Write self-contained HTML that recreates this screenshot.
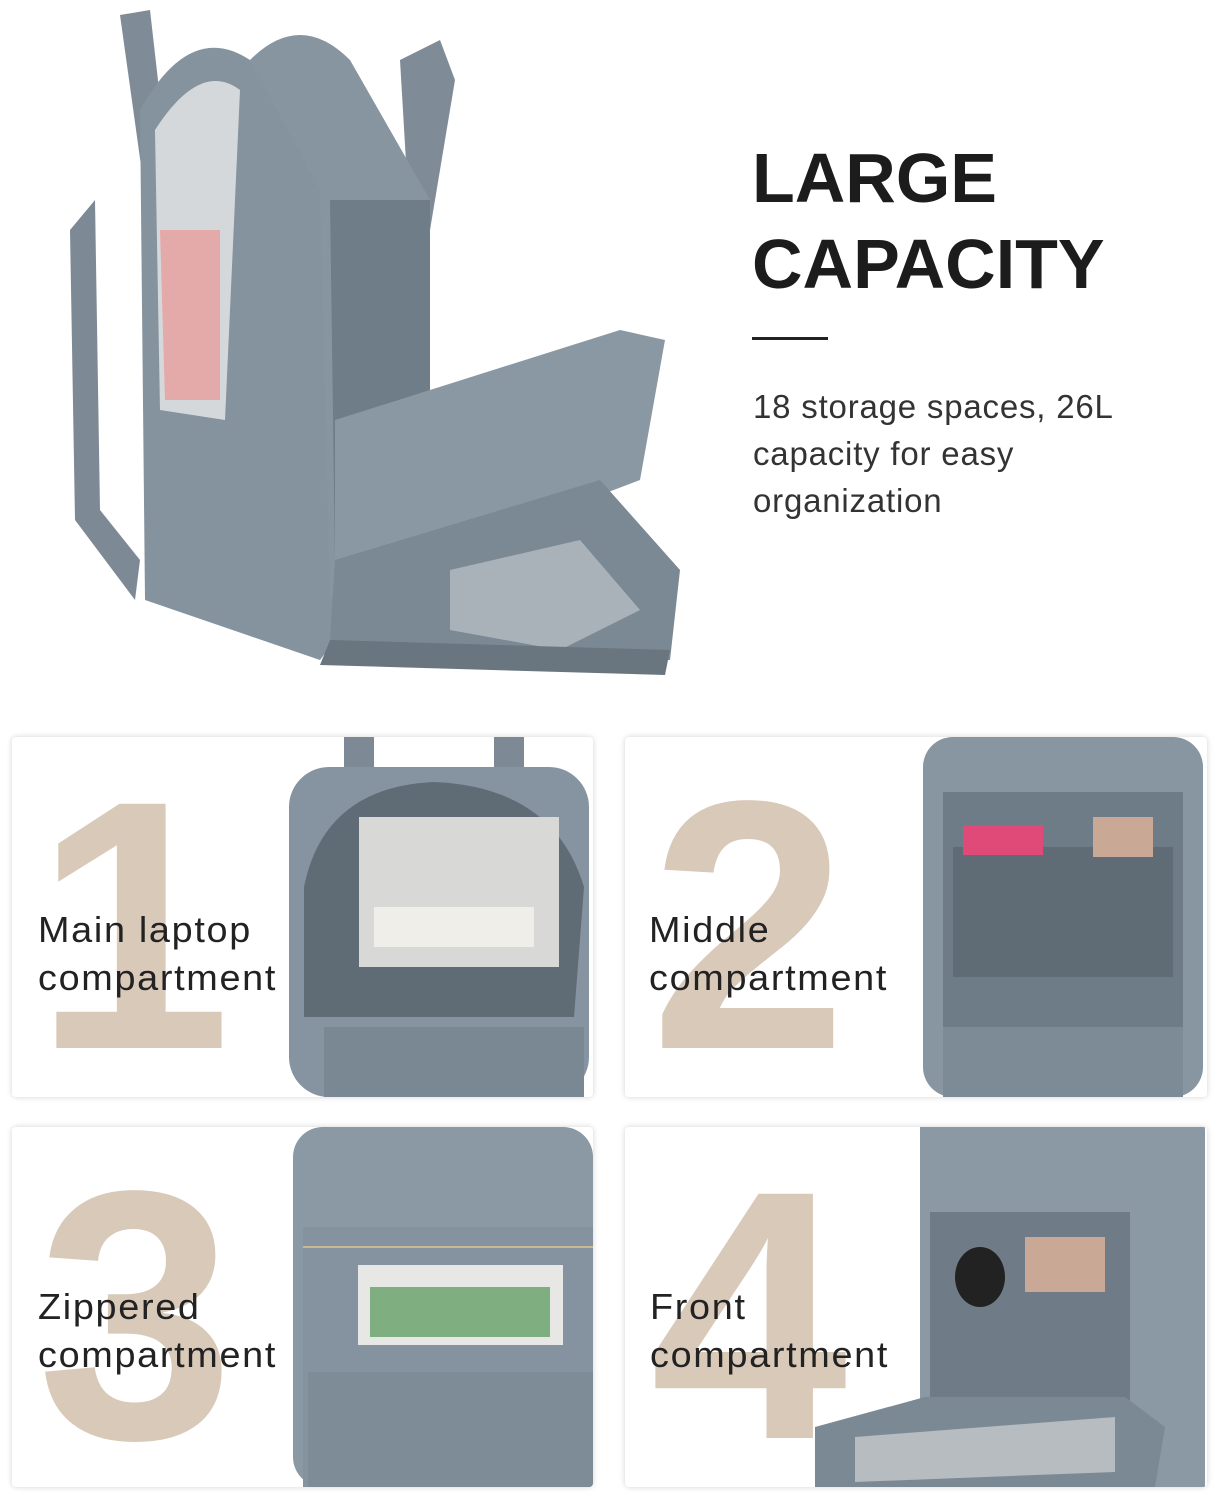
<!DOCTYPE html>
<html><head><meta charset="utf-8"><style>
body{margin:0;background:#fff;width:1219px;height:1500px;position:relative;overflow:hidden;font-family:"Liberation Sans",sans-serif}
.abs{position:absolute}
.card{position:absolute;background:#fff;border-radius:4px;box-shadow:0 0 6px rgba(0,0,0,.18);overflow:hidden}
.num{position:absolute;color:#d9c9b9;font-size:355px;line-height:1;font-weight:700}
.lbl{position:absolute;font-size:36px;line-height:48px;color:#222;letter-spacing:1.6px;transform:scaleX(1.05);transform-origin:left}
</style></head><body>
<svg class="abs" style="left:0;top:0" width="700" height="690">
 <path d="M95 200 L70 230 L75 520 L135 600 L140 560 L100 510 Z" fill="#7d8a95"/>
 <path d="M120 15 L150 10 L175 230 L150 230 Z" fill="#7f8c97"/>
 <path d="M400 60 L440 40 L455 80 L430 230 L410 230 Z" fill="#7f8c97"/>
 <path d="M140 110 Q190 20 250 60 L330 190 L335 640 L320 660 L145 600 Z" fill="#85939e"/>
 <path d="M155 130 Q200 60 240 90 L225 420 L160 410 Z" fill="#d5d8da"/>
 <path d="M160 230 L220 230 L220 400 L165 400 Z" fill="#e4a9a9"/>
 <path d="M250 60 Q300 10 350 60 L430 200 L430 480 L330 600 L320 190 Z" fill="#8795a0"/>
 <path d="M330 200 L430 200 L430 460 L335 560 Z" fill="#6f7d88"/>
 <path d="M335 420 L620 330 L665 340 L640 480 L430 560 L335 620 Z" fill="#8a98a3"/>
 <path d="M335 560 L600 480 L680 570 L670 660 L440 660 L330 640 Z" fill="#7b8994"/>
 <path d="M450 570 L580 540 L640 610 L560 650 L450 630 Z" fill="#a9b2b8"/>
 <path d="M330 640 L670 650 L665 675 L320 665 Z" fill="#697680"/>
</svg>
<div class="abs" style="left:752px;top:135px;font-size:70px;font-weight:700;line-height:86px;color:#1c1c1c">LARGE<br>CAPACITY</div>
<div class="abs" style="left:752px;top:337px;width:76px;height:3px;background:#222"></div>
<div class="abs" style="left:753px;top:383px;font-size:33px;line-height:47px;color:#333;letter-spacing:0.8px">18 storage spaces, 26L<br>capacity for easy<br>organization</div>

<div class="card" style="left:12px;top:737px;width:581px;height:360px">
 <svg class="abs" style="left:272px;top:0" width="310" height="360">
  <rect x="60" y="0" width="30" height="40" fill="#7d8a95"/><rect x="210" y="0" width="30" height="40" fill="#7d8a95"/>
  <rect x="5" y="30" width="300" height="330" rx="40" fill="#8594a0"/>
  <path d="M20 150 Q40 50 150 45 Q270 50 300 150 L290 280 L20 280 Z" fill="#5f6b75"/>
  <rect x="75" y="80" width="200" height="150" fill="#d8d8d6"/><rect x="90" y="170" width="160" height="40" fill="#efeee9"/>
  <rect x="40" y="290" width="260" height="70" fill="#7a8893"/>
 </svg>
 <div class="num" style="left:22px;top:12px">1</div>
 <div class="lbl" style="left:26px;top:169px">Main laptop<br>compartment</div>
</div>
<div class="card" style="left:625px;top:737px;width:582px;height:360px">
 <svg class="abs" style="left:293px;top:0" width="290" height="360">
  <rect x="5" y="0" width="280" height="360" rx="30" fill="#8796a1"/>
  <rect x="25" y="55" width="240" height="300" fill="#6e7c87"/>
  <rect x="35" y="110" width="220" height="130" fill="#5f6c76"/>
  <rect x="45" y="88" width="80" height="30" fill="#e04a78"/><rect x="175" y="80" width="60" height="40" fill="#c9a896"/>
  <rect x="25" y="290" width="240" height="70" fill="#7d8b96"/>
 </svg>
 <div class="num" style="left:25px;top:12px">2</div>
 <div class="lbl" style="left:24px;top:169px">Middle<br>compartment</div>
</div>
<div class="card" style="left:12px;top:1127px;width:581px;height:360px">
 <svg class="abs" style="left:276px;top:0" width="306" height="360">
  <rect x="5" y="0" width="300" height="360" rx="30" fill="#8b99a4"/>
  <rect x="15" y="100" width="290" height="260" fill="#8593a0"/>
  <rect x="70" y="138" width="205" height="80" fill="#e7e7e5"/><rect x="82" y="160" width="180" height="50" fill="#7faf80"/>
  <rect x="20" y="245" width="285" height="115" fill="#7e8c97"/>
  <line x1="15" y1="120" x2="305" y2="120" stroke="#c9b78f" stroke-width="2"/>
 </svg>
 <div class="num" style="left:25px;top:12px">3</div>
 <div class="lbl" style="left:26px;top:156px">Zippered<br>compartment</div>
</div>
<div class="card" style="left:625px;top:1127px;width:582px;height:360px">
 <svg class="abs" style="left:190px;top:0" width="392" height="360">
  <rect x="105" y="0" width="285" height="360" fill="#8b99a4"/>
  <rect x="115" y="85" width="200" height="200" fill="#6f7c87"/>
  <rect x="210" y="110" width="80" height="55" fill="#c9a896"/>
  <ellipse cx="165" cy="150" rx="25" ry="30" fill="#222"/>
  <path d="M0 300 L110 270 L310 270 L350 300 L340 360 L0 360 Z" fill="#7b8994"/>
  <path d="M40 310 L300 290 L300 345 L40 355 Z" fill="#b6bcc0"/>
 </svg>
 <div class="num" style="left:25px;top:12px">4</div>
 <div class="lbl" style="left:25px;top:156px">Front<br>compartment</div>
</div>
</body></html>
